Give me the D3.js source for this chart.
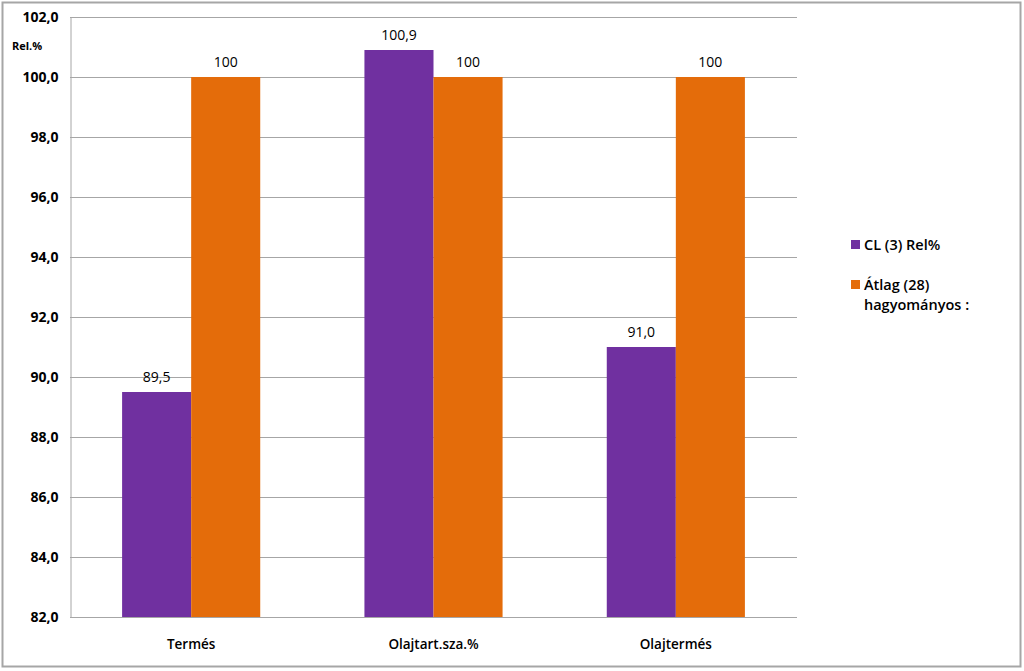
<!DOCTYPE html>
<html><head><meta charset="utf-8">
<script src="https://cdn.jsdelivr.net/npm/d3@7"></script>
<style>body{margin:0;background:#fff}svg{display:block}</style>
</head><body>
<svg id="c" width="1024" height="671"></svg>
<script>
const categories = ["Termés", "Olajtart.sza.%", "Olajtermés"];
const seriesNames = ["CL (3) Rel%", "Átlag (28) hagyományos :"];
const clValues = [89.5, 100.9, 91.0];
const atlagValues = [100, 100, 100];
const clLabels = ["89,5", "100,9", "91,0"];
const atlagLabels = ["100", "100", "100"];
const yTicks = [82, 84, 86, 88, 90, 92, 94, 96, 98, 100, 102];
const colors = ["#7030A0", "#E46C0A"];

const svg = d3.select("#c");
const font = "'Open Sans', 'Liberation Sans', sans-serif";
const m = {l: 70, r: 797, t: 17, b: 617};

svg.append("rect").attr("x", 2.5).attr("y", 2.5).attr("width", 1018).attr("height", 664)
  .attr("fill", "#fff").attr("stroke", "#a6a6a6").attr("stroke-width", 2);

const x0 = d3.scaleBand().domain(categories).range([m.l, m.r]).paddingInner(0.43).paddingOuter(0.215);
const x1 = d3.scaleBand().domain(seriesNames).range([0, x0.bandwidth()]);
const y = d3.scaleLinear().domain([82, 102]).range([m.b, m.t]);

// gridlines
svg.append("g").selectAll("line").data(yTicks).join("line")
  .attr("x1", m.l).attr("x2", m.r)
  .attr("y1", d => Math.round(y(d)) + 0.5).attr("y2", d => Math.round(y(d)) + 0.5)
  .attr("stroke", "#a6a6a6").attr("stroke-width", 1);

// y axis
const yAxis = d3.axisLeft(y).tickValues(yTicks).tickSize(0).tickPadding(12)
  .tickFormat(d => d3.format(".1f")(d).replace(".", ","));
const ga = svg.append("g").attr("transform", `translate(${m.l + 0.5},0)`).call(yAxis);
ga.select(".domain").attr("stroke", "#a6a6a6");
ga.selectAll("text").attr("font-family", font).attr("font-size", 14).attr("font-weight", "bold").attr("fill", "#000");

svg.append("text").attr("x", 12).attr("y", 50).text("Rel.%")
  .attr("font-family", font).attr("font-size", 11).attr("font-weight", "bold");

const data = categories.map((c, i) => ({c, vals: [clValues[i], atlagValues[i]], labs: [clLabels[i], atlagLabels[i]]}));

const g = svg.append("g").selectAll("g").data(data).join("g")
  .attr("transform", d => `translate(${x0(d.c)},0)`);
g.selectAll("rect").data(d => d.vals.map((v, j) => ({v, j, s: seriesNames[j]}))).join("rect")
  .attr("x", d => x1(d.s)).attr("width", x1.bandwidth())
  .attr("y", d => y(d.v)).attr("height", d => y(82) - y(d.v))
  .attr("fill", d => colors[d.j]);
g.selectAll("text.v").data(d => d.labs.map((l, j) => ({l, j, s: seriesNames[j], v: d.vals[j]}))).join("text")
  .attr("class", "v")
  .attr("x", d => x1(d.s) + x1.bandwidth() / 2).attr("y", d => y(d.v) - 10)
  .attr("text-anchor", "middle").text(d => d.l)
  .attr("font-family", font).attr("font-size", 14).attr("fill", "#000");

// x labels
svg.append("g").selectAll("text").data(categories).join("text")
  .attr("x", d => x0(d) + x0.bandwidth() / 2).attr("y", 649)
  .attr("text-anchor", "middle").text(d => d)
  .attr("font-family", font).attr("font-size", 13.5).attr("font-weight", 600);

// legend
const lg = svg.append("g").attr("font-family", font).attr("font-size", 14.5).attr("font-weight", 600);
lg.append("rect").attr("x", 851).attr("y", 240).attr("width", 9).attr("height", 9).attr("fill", colors[0]);
lg.append("text").attr("x", 864).attr("y", 250).text("CL (3) Rel%");
lg.append("rect").attr("x", 851).attr("y", 280).attr("width", 9).attr("height", 9).attr("fill", colors[1]);
lg.append("text").attr("x", 864).attr("y", 290).text("Átlag (28)");
lg.append("text").attr("x", 864).attr("y", 310).text("hagyományos :");
</script>
</body></html>
